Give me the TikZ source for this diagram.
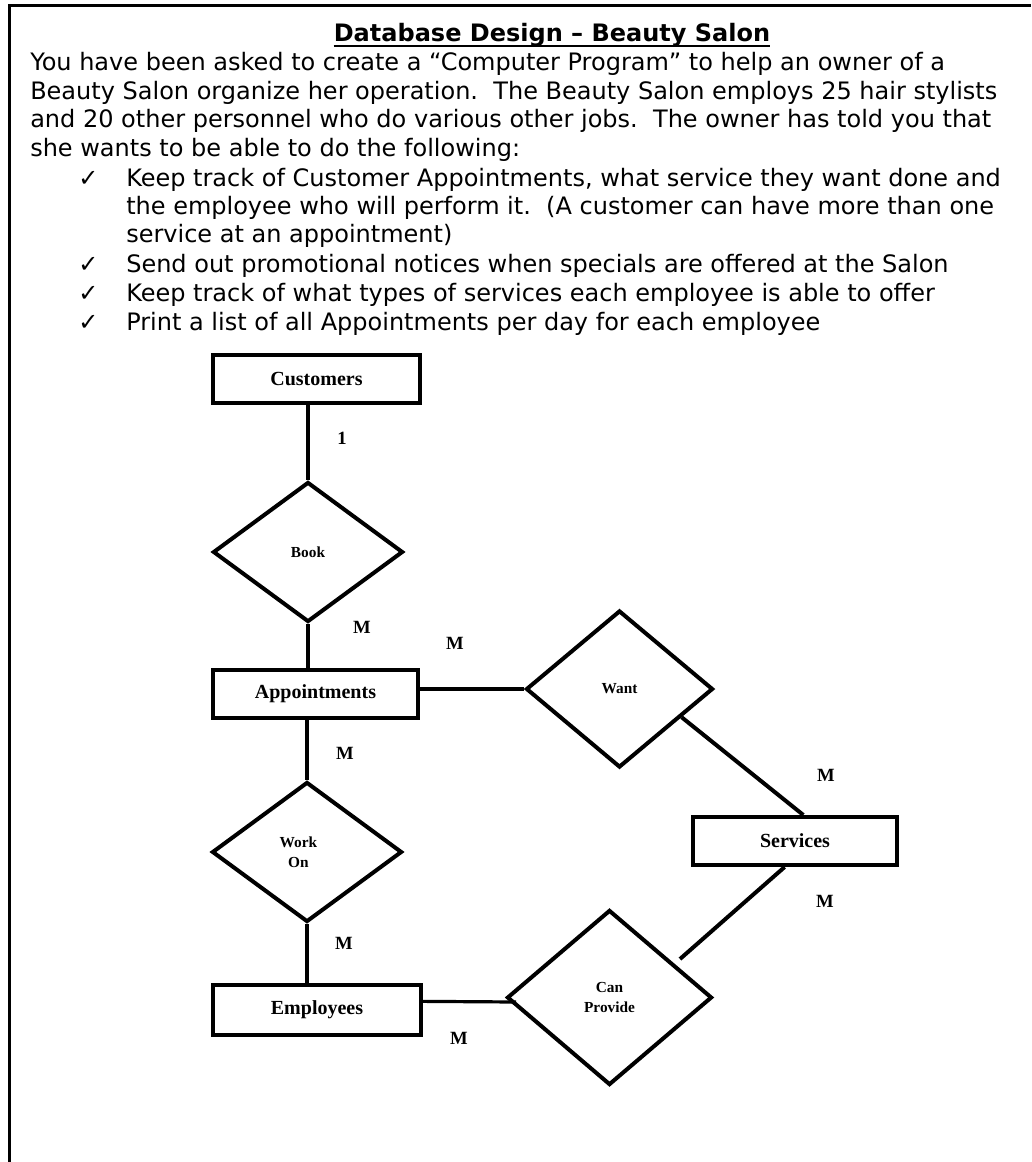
\documentclass[tikz,border=0pt]{standalone}
\usepackage{fontspec}
\setmainfont{DejaVu Sans}
\newfontfamily\erfont{Liberation Serif}
\usetikzlibrary{shapes.geometric,calc}
\frenchspacing
\tikzset{
  entity/.style={draw, line width=3pt, rectangle, inner sep=0pt,
    font=\erfont\bfseries\fontsize{15pt}{15pt}\selectfont},
  relation/.style={draw, line width=3pt, diamond, inner sep=0pt, align=center,
    font=\erfont\bfseries\fontsize{11.5pt}{15pt}\selectfont},
  card/.style={inner sep=0pt, font=\erfont\bfseries\fontsize{14pt}{14pt}\selectfont},
  link/.style={line width=3pt},
  hlink/.style={line width=2.4pt},
  bodytext/.style={anchor=base west, inner sep=0pt, font=\fontsize{18pt}{18pt}\selectfont},
  titletext/.style={anchor=base, inner sep=0pt, font=\bfseries\fontsize{18pt}{18pt}\selectfont},
}
\begin{document}
\begin{tikzpicture}[x=0.75pt, y=-0.75pt]
\fill[white] (0,0) rectangle (1031,1162);
\useasboundingbox (0,0) rectangle (1031,1162);
% frame
\draw[line width=1.9pt, line join=miter] (9.5,1162) -- (9.5,5.5) -- (1031,5.5);

% title
\node[titletext] (title) at (552,42) {Database Design – Beauty Salon};
\draw[line width=1.5pt] ([yshift=-3pt]title.base west) -- ([yshift=-3pt]title.base east);

% body text
\node[bodytext] (l1) at (30,71) {You have been asked to create a “Computer Program” to help an owner of a};
\node[bodytext] (l2) at (30,100) {Beauty Salon organize her operation.\ \ The Beauty Salon employs 25 hair stylists};
\node[bodytext] (l3) at (30,128) {and 20 other personnel who do various other jobs.\ \ The owner has told you that};
\node[bodytext] (l4) at (30,157) {she wants to be able to do the following:};
\node[bodytext] (c1) at (78,187) {✓};
\node[bodytext] (b1) at (126,187) {Keep track of Customer Appointments, what service they want done and};
\node[bodytext] (b1b) at (126,215) {the employee who will perform it.\ \ (A customer can have more than one};
\node[bodytext] (b1c) at (126,243) {service at an appointment)};
\node[bodytext] (c2) at (78,273) {✓};
\node[bodytext] (b2) at (126,273) {Send out promotional notices when specials are offered at the Salon};
\node[bodytext] (c3) at (78,301) {✓};
\node[bodytext] (b3) at (126,301) {Keep track of what types of services each employee is able to offer};
\node[bodytext] (c4) at (78,330) {✓};
\node[bodytext] (b4) at (126,330) {Print a list of all Appointments per day for each employee};

% entities
\node[entity, minimum width=155.25pt, minimum height=36pt] (cust) at (316.5,379) {Customers};
\node[entity, minimum width=153.75pt, minimum height=36pt] (appt) at (315.5,694) {Appointments};
\node[entity, minimum width=153pt, minimum height=36pt] (serv) at (795,841) {Services};
\node[entity, minimum width=156pt, minimum height=37.5pt] (emp) at (317,1010) {Employees};

% relationships
\node[relation, minimum width=142.5pt, minimum height=105pt] (book) at (308,552) {Book};
\node[relation, minimum width=140.25pt, minimum height=117.75pt] (want) at (619.5,689) {Want};
\node[relation, minimum width=142.5pt, minimum height=105pt] (work) at (307,852) {Work\hspace*{13pt}\\On\hspace*{13pt}};
\node[relation, minimum width=153.75pt, minimum height=131.25pt] (prov) at (609.5,997.5) {Can\\Provide};

% connectors
\draw[link] (book.north |- cust.south) -- (book.north);
\draw[link] (book.south) -- (book.south |- appt.north);
\draw[hlink] (appt.east |- want.west) -- (want.west);
\coordinate (wantout) at ($(want.east)!0.35!(want.south)$);
\coordinate (servin) at ($(serv.north west)!0.54!(serv.north east)$);
\draw[link] (wantout) -- (servin);
\coordinate (servout) at ($(serv.south west)!0.45!(serv.south east)$);
\coordinate (provgap) at (680,959);
\draw[link] (servout) -- (provgap);
\draw[link] (work.north |- appt.south) -- (work.north);
\draw[link] (work.south) -- (work.south |- emp.north);
\coordinate (empout) at ($(emp.north east)!0.34!(emp.south east)$);
\coordinate (provin) at (516,1002);
\draw[hlink] (empout) -- (provin);

% cardinalities
\node[card] (k1) at (342,438) {1};
\node[card] (k2) at (362,627) {M};
\node[card] (k3) at (455,643) {M};
\node[card] (k4) at (345,753) {M};
\node[card] (k5) at (344,943) {M};
\node[card] (k6) at (826,775) {M};
\node[card] (k7) at (825,901) {M};
\node[card] (k8) at (459,1038) {M};
\end{tikzpicture}
\end{document}
